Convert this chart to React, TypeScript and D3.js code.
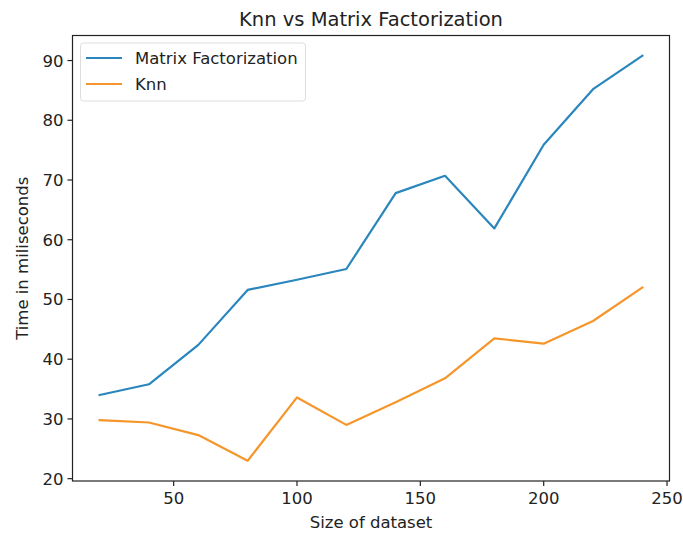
import React from "react";
import * as d3 from "d3";

const datasetSizes = [20, 40, 60, 80, 100, 120, 140, 160, 180, 200, 220, 240];
const matrixFactorization = [34.0, 35.8, 42.4, 51.6, 53.3, 55.1, 67.8, 70.7, 61.9, 75.9, 85.2, 90.8];
const knn = [29.8, 29.4, 27.3, 23.0, 33.6, 29.0, 32.8, 36.8, 43.5, 42.6, 46.4, 52.0];
const xTicks = [50, 100, 150, 200, 250];
const yTicks = [20, 30, 40, 50, 60, 70, 80, 90];
const seriesNames = ["Matrix Factorization", "Knn"];
const seriesColors = ["#2a86bd", "#f5962a"];

const W = 683;
const H = 534;
const L = 72.5;
const R = 669.5;
const T = 35.5;
const B = 481;
const FONT = "DejaVu Sans, sans-serif";
const FS = 16.5;

export default function App() {
  const xMin = d3.min(datasetSizes)!;
  const xMax = d3.max(datasetSizes)!;
  const xPad = (xMax - xMin) * 0.05;
  const all = [...matrixFactorization, ...knn];
  const yMin = d3.min(all)!;
  const yMax = d3.max(all)!;
  const yPad = (yMax - yMin) * 0.05;
  const x = d3.scaleLinear().domain([xMin - xPad, xMax + xPad]).range([L, R]);
  const y = d3.scaleLinear().domain([yMin - yPad, yMax + yPad]).range([B, T]);
  const line = d3
    .line<[number, number]>()
    .x((d) => x(d[0]))
    .y((d) => y(d[1]));
  const series = [matrixFactorization, knn];

  return (
    <svg
      width={W}
      height={H}
      style={{ position: "fixed", left: 0, top: 0, background: "#fff" }}
      fontFamily={FONT}
    >
      <rect x={0} y={0} width={W} height={H} fill="#fff" />
      <text x={(L + R) / 2} y={26} textAnchor="middle" fontSize={19.5} fill="#222">
        Knn vs Matrix Factorization
      </text>
      {series.map((s, i) => (
        <path
          key={i}
          d={line(datasetSizes.map((d, j) => [d, s[j]] as [number, number])) || ""}
          fill="none"
          stroke={seriesColors[i]}
          strokeWidth={2.2}
          strokeLinejoin="round"
          strokeLinecap="square"
        />
      ))}
      <rect x={L} y={T} width={R - L} height={B - T} fill="none" stroke="#222" strokeWidth={1.2} />
      {xTicks.map((t) => (
        <g key={t}>
          <line x1={x(t)} x2={x(t)} y1={B} y2={B + 5} stroke="#222" strokeWidth={1.2} />
          <text x={x(t)} y={B + 22.5} textAnchor="middle" fontSize={FS} fill="#222">
            {t}
          </text>
        </g>
      ))}
      {yTicks.map((t) => (
        <g key={t}>
          <line x1={L - 5} x2={L} y1={y(t)} y2={y(t)} stroke="#222" strokeWidth={1.2} />
          <text x={L - 9} y={y(t) + 6} textAnchor="end" fontSize={FS} fill="#222">
            {t}
          </text>
        </g>
      ))}
      <text x={(L + R) / 2} y={528} textAnchor="middle" fontSize={FS} fill="#222">
        Size of dataset
      </text>
      <text
        transform={`translate(28,${(T + B) / 2}) rotate(-90)`}
        textAnchor="middle"
        fontSize={FS}
        fill="#222"
      >
        Time in miliseconds
      </text>
      <g>
        <rect x={80.5} y={43} width={225} height={58} rx={3} fill="#fff" fillOpacity={0.8} stroke="#ddd" />
        {seriesNames.map((n, i) => (
          <g key={n}>
            <line
              x1={86}
              x2={122}
              y1={58 + i * 26}
              y2={58 + i * 26}
              stroke={seriesColors[i]}
              strokeWidth={2.2}
            />
            <text x={135} y={58 + i * 26 + 6} fontSize={FS} fill="#222">
              {n}
            </text>
          </g>
        ))}
      </g>
    </svg>
  );
}
